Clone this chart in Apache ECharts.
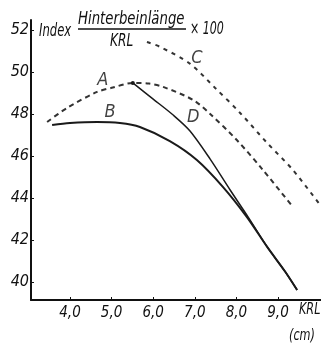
<!DOCTYPE html>
<html><head><meta charset="utf-8">
<script src="https://cdn.jsdelivr.net/npm/echarts@6/dist/echarts.min.js"></script>
<style>html,body{margin:0;padding:0;background:#fff}#c{width:321px;height:349px}</style>
</head><body><div id="c"></div>
<script>
// Tick labels
const xTicks = [4, 5, 6, 7, 8, 9];
const yTicks = [40, 42, 44, 46, 48, 50, 52];
// Curve A (dashed)
const aX = [3.45, 3.93, 4.65, 5.03, 5.51, 5.9, 6.24, 6.96, 7.37, 8.01, 8.64, 9.36];
const aY = [47.62, 48.29, 49.05, 49.26, 49.48, 49.45, 49.29, 48.67, 48.0, 46.76, 45.33, 43.57];
// Curve B (solid)
const bX = [3.57, 4.0, 4.65, 5.2, 5.68, 6.4, 7.05, 7.68, 8.25, 8.74, 9.17, 9.46];
const bY = [47.48, 47.57, 47.62, 47.57, 47.38, 46.71, 45.81, 44.52, 43.10, 41.67, 40.5, 39.62];
// Curve C (dashed)
const cX = [5.85, 6.16, 6.88, 7.49, 8.09, 8.74, 9.36, 10.0];
const cY = [51.43, 51.2, 50.4, 49.24, 48.05, 46.62, 45.33, 43.7];
// Curve D (solid, from peak of A)
const dX = [5.51, 6.0, 6.48, 6.88, 7.37, 7.85, 8.28, 8.74, 9.17, 9.46];
const dY = [49.48, 48.71, 47.95, 47.2, 45.85, 44.38, 43.10, 41.67, 40.5, 39.62];
// Curve letters
const curveNames = ['A', 'B', 'C', 'D'];
const nameX = [4.79, 4.96, 7.05, 6.96];
const nameY = [49.62, 48.10, 50.67, 47.86];

const FONT = '"DejaVu Sans Condensed", "Liberation Sans Narrow", "DejaVu Sans", sans-serif';
const pairs = (xs, ys) => xs.map((x, i) => [x, ys[i]]);

const chart = echarts.init(document.getElementById('c'), null, {renderer: 'canvas'});
const dData = pairs(dX, dY).map((p, i) => i === 0 ? {value: p, symbol: 'circle', symbolSize: 4} : {value: p, symbol: 'none'});

function txt(text, x, y, size, sx) {
  return {type: 'text', x: x, y: y, scaleX: sx, silent: true,
    style: {text: text, font: 'italic ' + size + 'px ' + FONT, fill: '#111', verticalAlign: 'top', align: 'left'}};
}

chart.setOption({
  animation: false,
  backgroundColor: '#fff',
  grid: {left: 31, top: 20, width: 290, height: 280, outerBoundsMode: 'none', containLabel: false},
  xAxis: {
    type: 'value', min: 3.0625, max: 10.034,
    axisLine: {show: true, lineStyle: {color: '#111', width: 2}},
    axisTick: {show: true, inside: true, length: 3, customValues: xTicks, lineStyle: {color: '#111'}},
    axisLabel: {customValues: xTicks, margin: 6, color: '#111', fontFamily: FONT, fontStyle: 'italic', fontSize: 15,
      formatter: v => v.toFixed(1).replace('.', ',')},
    splitLine: {show: false}
  },
  yAxis: {
    type: 'value', min: 39.143, max: 52.476,
    axisLine: {show: true, lineStyle: {color: '#111', width: 2}},
    axisTick: {show: true, inside: true, length: 3, customValues: yTicks, lineStyle: {color: '#111'}},
    axisLabel: {customValues: yTicks, margin: 2, color: '#111', fontFamily: FONT, fontStyle: 'italic', fontSize: 16},
    splitLine: {show: false}
  },
  series: [
    {type: 'line', data: pairs(aX, aY), smooth: 0.3, showSymbol: false,
      lineStyle: {color: '#333', width: 2, type: [5, 4]}},
    {type: 'line', data: pairs(bX, bY), smooth: 0.3, showSymbol: false,
      lineStyle: {color: '#1a1a1a', width: 2}},
    {type: 'line', data: pairs(cX, cY), smooth: 0.3, showSymbol: false,
      lineStyle: {color: '#333', width: 2, type: [4, 5]}},
    {type: 'line', data: dData, smooth: 0.3, showSymbol: true, itemStyle: {color: '#1a1a1a'},
      lineStyle: {color: '#1a1a1a', width: 1.5}},
    {type: 'scatter', symbolSize: 0, silent: true,
      data: curveNames.map((n, i) => ({name: n, value: [nameX[i], nameY[i]]})),
      label: {show: true, position: 'inside', formatter: p => p.name, color: '#111',
        fontFamily: FONT, fontStyle: 'italic', fontSize: 18}}
  ],
  graphic: [
    txt('Index', 39, 23, 17, 0.76),
    txt('Hinterbeinlänge', 78, 10, 18, 0.82),
    {type: 'line', silent: true, shape: {x1: 78, y1: 29, x2: 186, y2: 29}, style: {stroke: '#111', lineWidth: 1.5}},
    txt('KRL', 110, 32, 18, 0.75),
    txt('× 100', 190, 20, 18, 0.68),
    txt('KRL', 299, 302, 16, 0.78),
    txt('(cm)', 289, 328, 16, 0.78)
  ]
});
</script></body></html>
